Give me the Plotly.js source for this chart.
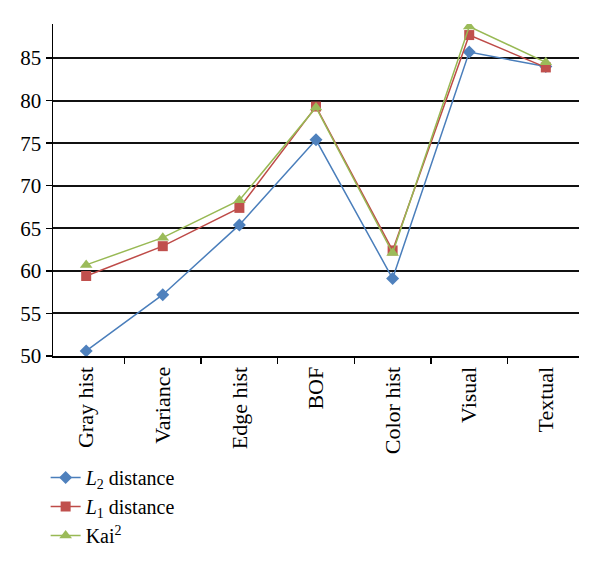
<!DOCTYPE html>
<html>
<head>
<meta charset="utf-8">
<script src="https://cdn.plot.ly/plotly-3.0.1.min.js"></script>
<style>html,body{margin:0;padding:0;background:#fff;}</style>
</head>
<body>
<div id="chart" style="width:600px;height:566px;"></div>
<script>
const categories = ["Gray hist", "Variance", "Edge hist", "BOF", "Color hist", "Visual", "Textual"];
const l2Values = [50.6, 57.2, 65.4, 75.4, 59.1, 85.7, 84.0];
const l1Values = [59.4, 62.9, 67.4, 79.3, 62.4, 87.7, 83.9];
const kaiValues = [60.7, 63.9, 68.3, 79.2, 62.1, 88.7, 84.5];
const seriesNames = ["<i>L</i><sub>2</sub> distance", "<i>L</i><sub>1</sub> distance", "Kai<sup>2</sup>"];
const yTicks = [50, 55, 60, 65, 70, 75, 80, 85];

const font = "Liberation Serif, Times New Roman, serif";
const traces = [
  {x: categories, y: l2Values, name: seriesNames[0], mode: "lines+markers", type: "scatter",
   line: {color: "#4A7EBB", width: 1.5}, marker: {symbol: "diamond", size: 10, color: "#4F81BD"}},
  {x: categories, y: l1Values, name: seriesNames[1], mode: "lines+markers", type: "scatter",
   line: {color: "#BE4B48", width: 1.5}, marker: {symbol: "square", size: 10, color: "#C0504D"}},
  {x: categories, y: kaiValues, name: seriesNames[2], mode: "lines+markers", type: "scatter",
   line: {color: "#98B954", width: 1.5}, marker: {symbol: "triangle-up", size: 11, color: "#9BBB59"}}
];
const layout = {
  width: 600, height: 566,
  margin: {l: 53, r: 21, t: 24, b: 210, autoexpand: false},
  paper_bgcolor: "#fff", plot_bgcolor: "#fff",
  font: {family: font, size: 21, color: "#000"},
  showlegend: true,
  legend: {x: -0.014, xanchor: "left", y: -0.307, yanchor: "top", font: {family: font, size: 20, color: "#000"},
           tracegroupgap: 0, itemwidth: 30, itemsizing: "trace", bgcolor: "rgba(0,0,0,0)"},
  xaxis: {type: "category", tickangle: -90, tickson: "boundaries", ticks: "outside", ticklen: 6, automargin: false,
          tickcolor: "#000", tickwidth: 1.5, showline: true, linecolor: "#000", linewidth: 2,
          showgrid: false, zeroline: false, tickfont: {family: font, size: 22, color: "#000"}, fixedrange: true},
  yaxis: {range: [50, 89], tickvals: yTicks, ticktext: yTicks.map(String), ticks: "outside", ticklen: 6, automargin: false,
          tickcolor: "#000", tickwidth: 1.5, showline: true, linecolor: "#000", linewidth: 1.5,
          showgrid: true, gridcolor: "#111", gridwidth: 2, zeroline: false,
          tickfont: {family: font, size: 21, color: "#000"}, fixedrange: true}
};
Plotly.newPlot("chart", traces, layout, {displayModeBar: false, staticPlot: true});
</script>
</body>
</html>
